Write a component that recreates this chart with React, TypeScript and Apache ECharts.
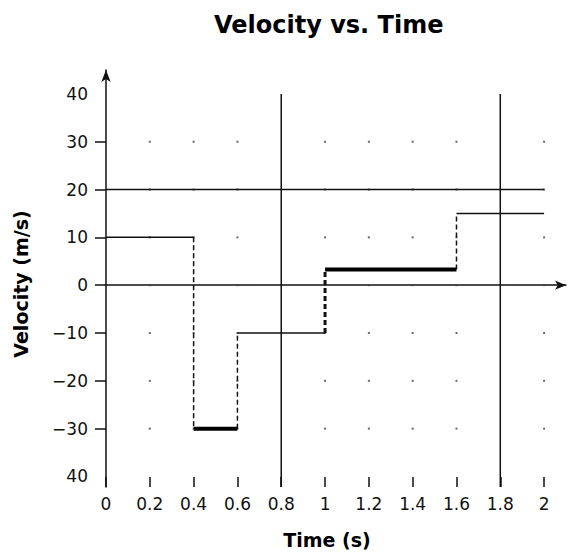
import React, { useEffect, useRef } from "react";
import * as echarts from "echarts";

const xTickValues = [0, 0.2, 0.4, 0.6, 0.8, 1, 1.2, 1.4, 1.6, 1.8, 2];
const xTickLabels = ["0", "0.2", "0.4", "0.6", "0.8", "1", "1.2", "1.4", "1.6", "1.8", "2"];
const yTickValues = [40, 30, 20, 10, 0, -10, -20, -30, -40];
const yTickLabels = ["40", "30", "20", "10", "0", "−10", "−20", "−30", "40"];
const yTickMarks = [30, 20, 10, 0, -10, -20, -30];

// step function: velocity held on each interval [stepTimes[i], stepTimes[i+1]]
const stepTimes = [0, 0.4, 0.6, 1.0, 1.6, 2.0];
const stepVelocities = [10, -30, -10, 3.3, 15];

const referenceVelocity = 20;
const markerTimes = [0.8, 1.8];

const dotTimes = [0.2, 0.4, 0.6, 1, 1.2, 1.4, 1.6, 2];
const dotVelocities = [30, 20, 10, 0, -10, -20, -30];

const xMin = 0;
const xMax = 2.1;
const yMin = -42.2;
const yMax = 45;

const FONT = "DejaVu Sans";
const INK = "#111";

export default function App() {
  const ref = useRef<HTMLDivElement>(null);

  useEffect(() => {
    if (!ref.current) return;
    const chart = echarts.init(ref.current, undefined, { renderer: "svg" });

    const thickSegments = [1, 3];
    const series: any[] = [];

    // grid dots
    const dots: number[][] = [];
    dotTimes.forEach((t) => dotVelocities.forEach((v) => dots.push([t, v])));
    series.push({
      type: "scatter",
      data: dots,
      symbol: "rect",
      symbolSize: 2,
      itemStyle: { color: "#444" },
      silent: true,
      z: 1,
    });

    // reference horizontal line
    series.push({
      type: "line",
      data: [
        [stepTimes[0], referenceVelocity],
        [stepTimes[stepTimes.length - 1], referenceVelocity],
      ],
      symbol: "none",
      lineStyle: { color: INK, width: 1.5 },
      silent: true,
      z: 2,
    });

    // vertical markers
    markerTimes.forEach((t) => {
      series.push({
        type: "line",
        data: [
          [t, yTickValues[0]],
          [t, yMin],
        ],
        symbol: "none",
        lineStyle: { color: INK, width: 1.5 },
        silent: true,
        z: 2,
      });
    });

    // horizontal step segments
    stepVelocities.forEach((v, i) => {
      const thick = thickSegments.includes(i);
      series.push({
        type: "line",
        data: [
          [stepTimes[i], v],
          [stepTimes[i + 1], v],
        ],
        symbol: "none",
        lineStyle: { color: thick ? "#000" : INK, width: thick ? 4 : 1.5 },
        silent: true,
        z: 3,
      });
    });

    // vertical connectors
    for (let i = 1; i < stepVelocities.length; i++) {
      const t = stepTimes[i];
      const dottedThick = i === 3;
      series.push({
        type: "line",
        data: [
          [t, stepVelocities[i - 1]],
          [t, stepVelocities[i]],
        ],
        symbol: "none",
        lineStyle: {
          color: INK,
          width: dottedThick ? 3 : 1.5,
          type: [5, 3],
        },
        silent: true,
        z: 3,
      });
    }

    chart.setOption({
      animation: false,
      backgroundColor: "#fff",
      title: {
        text: "Velocity vs. Time",
        left: 209,
        top: 8,
        textStyle: { fontFamily: FONT, fontSize: 24, fontWeight: "bold", color: "#000" },
      },
      grid: { left: 106, right: 1, top: 70, bottom: 65, containLabel: false },
      xAxis: [
        {
          type: "value",
          min: xMin,
          max: xMax,
          position: "bottom",
          axisLine: { show: true, onZero: false, lineStyle: { color: "rgba(0,0,0,0)", width: 0 } },
          axisTick: {
            show: true,
            inside: true,
            length: 10,
            customValues: xTickValues,
            lineStyle: { color: INK, width: 1.5 },
          },
          axisLabel: {
            show: true,
            customValues: xTickValues,
            margin: 8,
            fontFamily: FONT,
            fontSize: 17,
            color: INK,
            formatter: (val: number) => {
              const idx = xTickValues.findIndex((x) => Math.abs(x - val) < 1e-9);
              return idx >= 0 ? xTickLabels[idx] : "";
            },
          },
          splitLine: { show: false },
        },
        {
          type: "value",
          min: xMin,
          max: xMax,
          position: "top",
          axisLine: {
            show: true,
            onZero: true,
            symbol: ["none", "arrow"],
            symbolSize: [7, 11],
            lineStyle: { color: INK, width: 1.5 },
          },
          axisTick: { show: false },
          axisLabel: { show: false },
          splitLine: { show: false },
        },
      ],
      yAxis: {
        type: "value",
        min: yMin,
        max: yMax,
        axisLine: {
          show: true,
          onZero: false,
          symbol: ["none", "arrow"],
          symbolSize: [7, 12],
          lineStyle: { color: INK, width: 1.5 },
        },
        axisTick: {
          show: true,
          length: 11,
          customValues: yTickMarks,
          lineStyle: { color: INK, width: 1.5 },
        },
        axisLabel: {
          show: true,
          customValues: yTickValues,
          margin: 18,
          fontFamily: FONT,
          fontSize: 17,
          color: INK,
          formatter: (val: number) => {
            const idx = yTickValues.findIndex((y) => Math.abs(y - val) < 1e-9);
            return idx >= 0 ? yTickLabels[idx] : "";
          },
        },
        splitLine: { show: false },
      },
      graphic: [
        {
          type: "text",
          x: 21,
          y: 284,
          rotation: Math.PI / 2,
          style: {
            text: "Velocity (m/s)",
            font: `bold 19px "${FONT}"`,
            fill: "#000",
            textAlign: "center",
            textVerticalAlign: "middle",
          },
        },
        {
          type: "text",
          x: 327,
          y: 540,
          style: {
            text: "Time (s)",
            font: `bold 19px "${FONT}"`,
            fill: "#000",
            textAlign: "center",
            textVerticalAlign: "middle",
          },
        },
      ],
      series,
    });

    return () => chart.dispose();
  }, []);

  return (
    <div
      ref={ref}
      style={{ position: "absolute", left: 0, top: 0, width: 567, height: 552 }}
    />
  );
}
